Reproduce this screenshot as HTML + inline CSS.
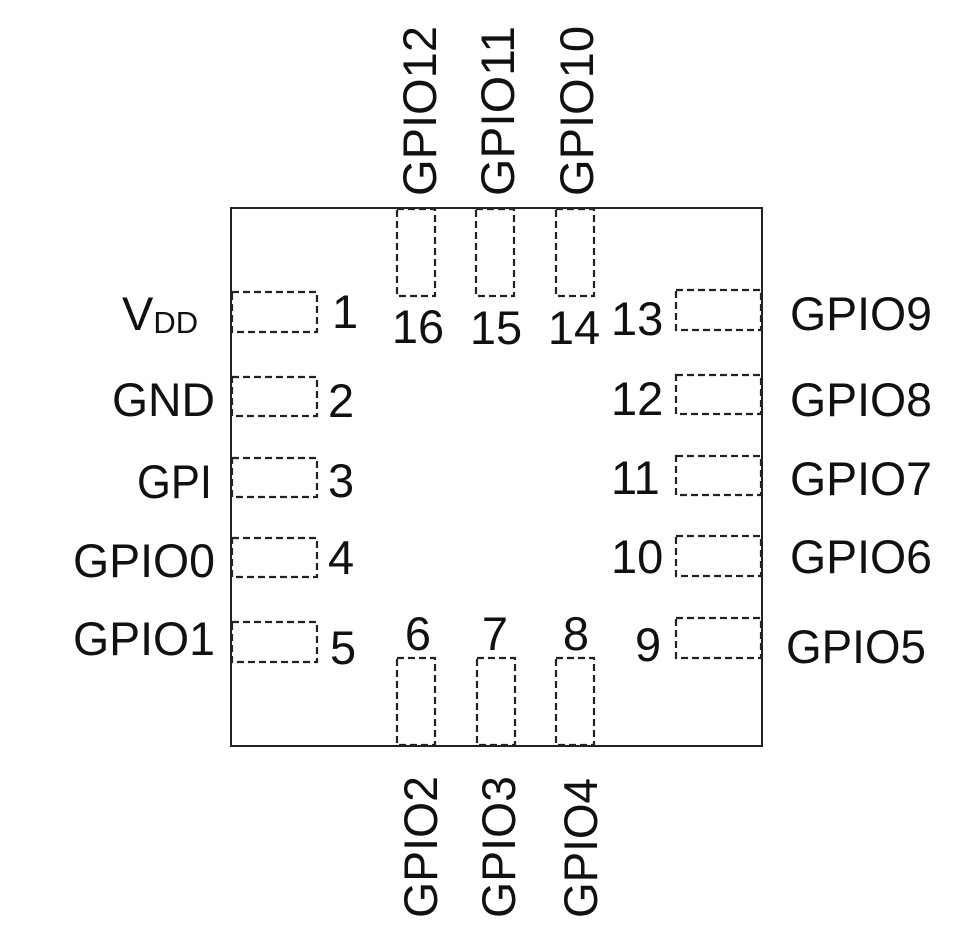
<!DOCTYPE html>
<html><head><style>body{margin:0;background:#fff}svg{display:block}</style></head>
<body>
<svg width="970" height="934" viewBox="0 0 970 934" xmlns="http://www.w3.org/2000/svg" font-family="Liberation Sans, sans-serif" fill="#111">
<rect x="231" y="208" width="531" height="538" fill="none" stroke="#222" stroke-width="2"/>
<g fill="none" stroke="#222" stroke-width="2.2" stroke-dasharray="7,4">
<rect x="232" y="292" width="85" height="40"/>
<rect x="232" y="377" width="85" height="39"/>
<rect x="232" y="458" width="85" height="39"/>
<rect x="232" y="538" width="85" height="39"/>
<rect x="232" y="622" width="85" height="40"/>
<rect x="676" y="290" width="85" height="40"/>
<rect x="676" y="375" width="85" height="39"/>
<rect x="676" y="456" width="85" height="39"/>
<rect x="676" y="536" width="85" height="40"/>
<rect x="676" y="618" width="85" height="40"/>
<rect x="397" y="209" width="38" height="87"/>
<rect x="476" y="209" width="38" height="87"/>
<rect x="556" y="209" width="38" height="87"/>
<rect x="397" y="658" width="38" height="87"/>
<rect x="477" y="658" width="38" height="87"/>
<rect x="556" y="658" width="38" height="87"/>
</g>
<g font-size="47">
<text x="332" y="328">1</text>
<text x="328" y="417">2</text>
<text x="328" y="497">3</text>
<text x="328" y="574">4</text>
<text x="330" y="664">5</text>
<text x="418" y="650" text-anchor="middle">6</text>
<text x="495" y="650" text-anchor="middle">7</text>
<text x="576" y="650" text-anchor="middle">8</text>
<text x="635" y="661">9</text>
<text x="611" y="573">10</text>
<text x="611" y="494">11</text>
<text x="611" y="415">12</text>
<text x="611" y="335">13</text>
<text x="574" y="344" text-anchor="middle">14</text>
<text x="496" y="344" text-anchor="middle">15</text>
<text x="418" y="343" text-anchor="middle">16</text>
<text x="215" y="416" text-anchor="end" textLength="103" lengthAdjust="spacingAndGlyphs">GND</text>
<text x="212" y="498" text-anchor="end" textLength="75" lengthAdjust="spacingAndGlyphs">GPI</text>
<text x="215" y="577" text-anchor="end" textLength="142" lengthAdjust="spacingAndGlyphs">GPIO0</text>
<text x="215" y="655" text-anchor="end" textLength="142" lengthAdjust="spacingAndGlyphs">GPIO1</text>
<text x="122" y="330">V<tspan font-size="31" dy="3">DD</tspan></text>
<text x="790" y="330" textLength="142" lengthAdjust="spacingAndGlyphs">GPIO9</text>
<text x="790" y="416" textLength="142" lengthAdjust="spacingAndGlyphs">GPIO8</text>
<text x="790" y="495" textLength="142" lengthAdjust="spacingAndGlyphs">GPIO7</text>
<text x="790" y="573" textLength="142" lengthAdjust="spacingAndGlyphs">GPIO6</text>
<text x="786" y="663" textLength="140" lengthAdjust="spacingAndGlyphs">GPIO5</text>
<text transform="translate(436,196) rotate(-90)" textLength="170" lengthAdjust="spacingAndGlyphs">GPIO12</text>
<text transform="translate(514,196) rotate(-90)" textLength="170" lengthAdjust="spacingAndGlyphs">GPIO11</text>
<text transform="translate(593,196) rotate(-90)" textLength="170" lengthAdjust="spacingAndGlyphs">GPIO10</text>
<text transform="translate(437,918) rotate(-90)" textLength="142" lengthAdjust="spacingAndGlyphs">GPIO2</text>
<text transform="translate(515,918) rotate(-90)" textLength="142" lengthAdjust="spacingAndGlyphs">GPIO3</text>
<text transform="translate(597,918) rotate(-90)" textLength="140" lengthAdjust="spacingAndGlyphs">GPIO4</text>
</g>
</svg>
</body></html>
